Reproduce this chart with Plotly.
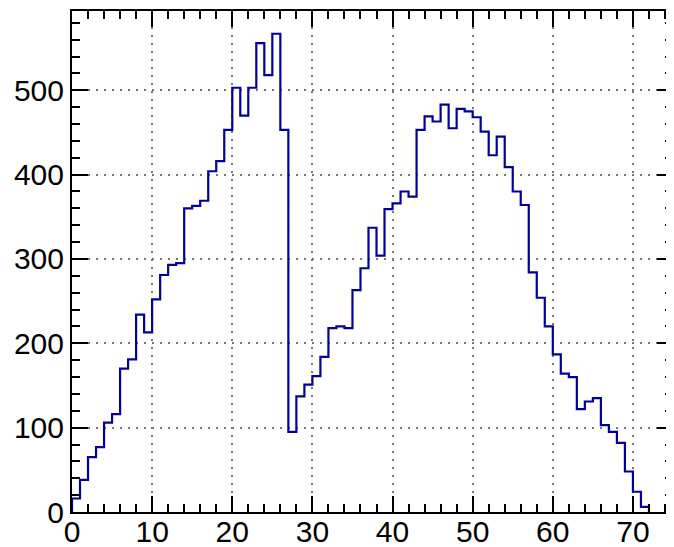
import plotly.graph_objects as go

# counts per unit-wide bin, bins start at 0
counts = [16, 38, 65, 77, 106, 116, 170, 181, 234, 213,
          252, 281, 293, 295, 360, 363, 369, 404, 416, 453,
          503, 470, 503, 556, 518, 567, 453, 95, 137, 151,
          161, 184, 218, 220, 218, 263, 289, 337, 304, 359,
          366, 380, 374, 453, 469, 463, 483, 455, 478, 475,
          468, 451, 423, 445, 409, 380, 364, 284, 254, 220,
          187, 164, 160, 122, 131, 135, 103, 95, 82, 48,
          24, 6]
bin_width = 1
x_ticks = [0, 10, 20, 30, 40, 50, 60, 70]
y_ticks = [0, 100, 200, 300, 400, 500]

edges = [i * bin_width for i in range(len(counts) + 1)]
# outline: up from zero at the first edge, down to zero at the last
xs = [edges[0]] + edges[:-1] + [edges[-1]]
ys = [0] + counts + [0]

fig = go.Figure()
fig.add_trace(go.Scatter(x=xs, y=ys, mode='lines', line_shape='hv',
                         line=dict(color='#00009c', width=2.2),
                         showlegend=False, hoverinfo='skip'))

axis_style = dict(
    showline=True, linecolor='black', linewidth=2, mirror='ticks',
    ticks='inside', ticklen=16, tickwidth=2, tickcolor='black',
    showgrid=True, gridcolor='#777777', gridwidth=1.5, griddash='2px,6px',
    zeroline=False, automargin=False,
    tickfont=dict(family='Liberation Sans', size=30, color='black'),
)

fig.update_xaxes(range=[0, 75], tickvals=x_ticks, ticklabelstandoff=-8,
                 minor=dict(dtick=2, ticks='inside', ticklen=8, tickwidth=2,
                            tickcolor='black', showgrid=False),
                 **axis_style)
fig.update_yaxes(range=[0, 594], tickvals=y_ticks,
                 minor=dict(dtick=20, ticks='inside', ticklen=8, tickwidth=2,
                            tickcolor='black', showgrid=False),
                 **axis_style)

# the page body adds an 8px offset, so the figure is drawn 8px smaller
fig.update_layout(width=666, height=539,
                  margin=dict(l=64, r=1, t=3, b=35),
                  plot_bgcolor='white', paper_bgcolor='white')

fig.write_html("out.html")
